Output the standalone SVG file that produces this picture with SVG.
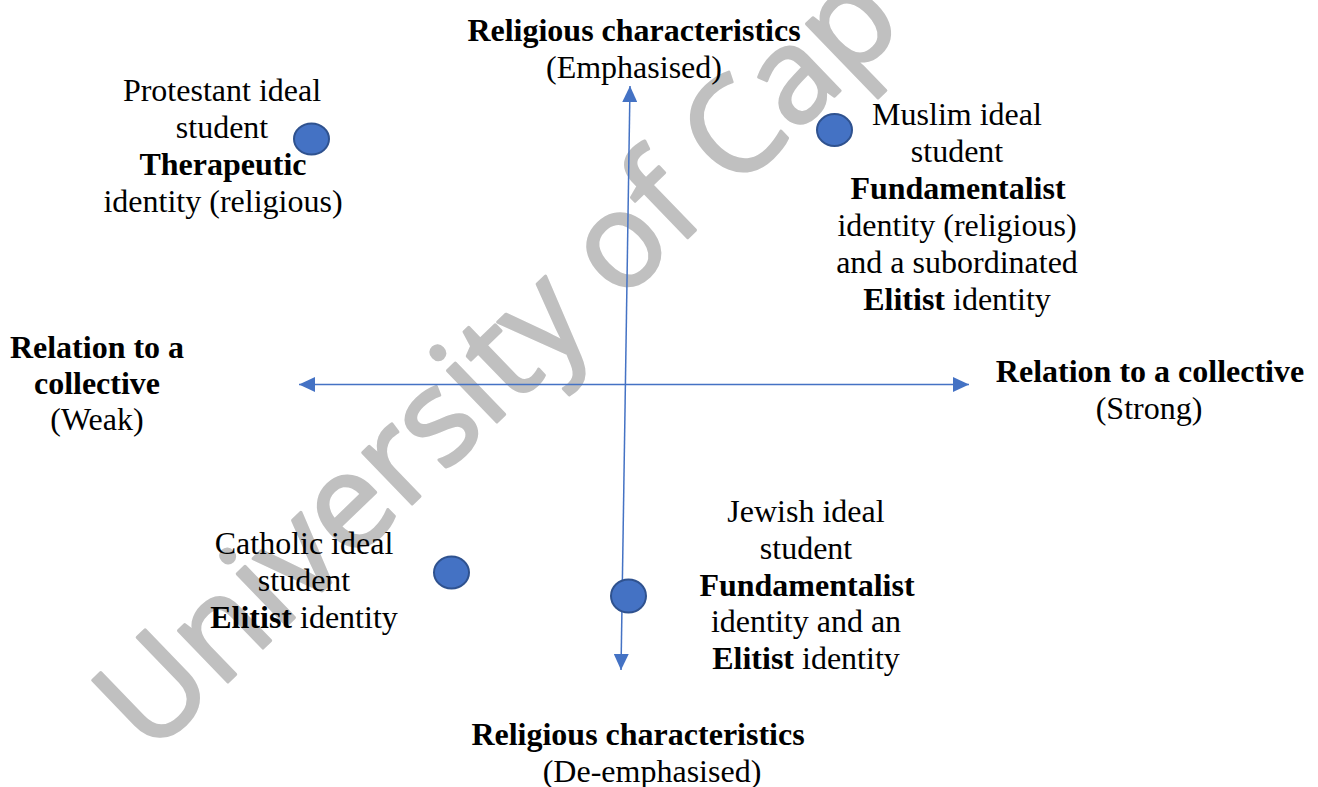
<svg xmlns="http://www.w3.org/2000/svg" width="1318" height="787" viewBox="0 0 1318 787">
<style>
  .t { font-family: "Liberation Serif", "Times New Roman", serif; font-size: 32px; fill: #000; text-anchor: middle; }
  .b { font-weight: bold; }
  .wm { font-family: "Open Sans", "Liberation Sans", sans-serif; font-size: 133px; fill: #c0c0c0; stroke: #c0c0c0; stroke-width: 3; stroke-linejoin: round; }
  .axis { stroke: #4472C4; stroke-width: 1.5; fill: none; }
  .dot { fill: #4472C4; stroke: #2F528F; stroke-width: 2; }
</style>
<defs>
  <marker id="arrow" markerUnits="userSpaceOnUse" viewBox="0 0 16 15" refX="16" refY="7.5" markerWidth="16" markerHeight="15" orient="auto-start-reverse">
    <path d="M0,0 L16,7.5 L0,15 z" fill="#4472C4"/>
  </marker>
</defs>
<rect width="1318" height="787" fill="#fff"/>
<text class="wm" transform="translate(150,757) rotate(-44)">University of Cap</text>
<g id="connectors">
  <line class="axis" x1="299" y1="384.5" x2="969" y2="384.5" marker-start="url(#arrow)" marker-end="url(#arrow)"/>
  <line class="axis" x1="630" y1="86" x2="621" y2="670" marker-start="url(#arrow)" marker-end="url(#arrow)"/>
</g>
<g id="label-top">
  <text class="t b" x="634" y="41">Religious characteristics</text>
  <text class="t" x="634" y="78">(Emphasised)</text>
</g>
<g id="label-bottom">
  <text class="t b" x="638" y="745">Religious characteristics</text>
  <text class="t" x="652" y="782">(De-emphasised)</text>
</g>
<g id="label-left">
  <text class="t b" x="97" y="358">Relation to a</text>
  <text class="t b" x="97" y="394">collective</text>
  <text class="t" x="97" y="430">(Weak)</text>
</g>
<g id="label-right">
  <text class="t b" x="1150" y="382">Relation to a collective</text>
  <text class="t" x="1149" y="419">(Strong)</text>
</g>
<g id="protestant">
  <text class="t" x="222" y="101">Protestant ideal</text>
  <text class="t" x="222" y="138">student</text>
  <text class="t b" x="223" y="175">Therapeutic</text>
  <text class="t" x="223" y="212">identity (religious)</text>
  <ellipse class="dot" cx="311.5" cy="139" rx="17.5" ry="15.5"/>
</g>
<g id="muslim">
  <ellipse class="dot" cx="834.5" cy="130" rx="17.5" ry="16"/>
  <text class="t" x="957" y="125">Muslim ideal</text>
  <text class="t" x="957" y="162">student</text>
  <text class="t b" x="958" y="199">Fundamentalist</text>
  <text class="t" x="957" y="236">identity (religious)</text>
  <text class="t" x="957" y="273">and a subordinated</text>
  <text class="t" x="957" y="310"><tspan class="b">Elitist</tspan> identity</text>
</g>
<g id="catholic">
  <text class="t" x="304" y="554">Catholic ideal</text>
  <text class="t" x="304" y="591">student</text>
  <text class="t" x="304" y="628"><tspan class="b">Elitist</tspan> identity</text>
  <ellipse class="dot" cx="451.5" cy="572.5" rx="17.5" ry="16"/>
</g>
<g id="jewish">
  <ellipse class="dot" cx="628.5" cy="596" rx="17.5" ry="16.5"/>
  <text class="t" x="806" y="522">Jewish ideal</text>
  <text class="t" x="806" y="559">student</text>
  <text class="t b" x="807" y="596">Fundamentalist</text>
  <text class="t" x="806" y="632">identity and an</text>
  <text class="t" x="806" y="669"><tspan class="b">Elitist</tspan> identity</text>
</g>
</svg>
